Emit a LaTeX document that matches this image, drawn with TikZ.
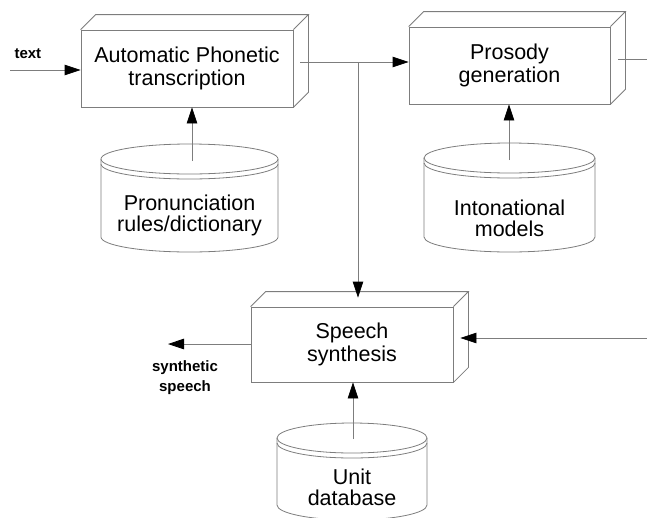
\documentclass[tikz,border=0pt]{standalone}
\usepackage{fontspec}
\setmainfont{Liberation Sans}
\usetikzlibrary{arrows.meta,calc}

\definecolor{linegray}{RGB}{125,125,125}

% database cylinder: centre x, top-ellipse y, bottom-ellipse y, x radius
\newcommand\dbcyl[4]{%
  \draw[edge] (#1,-#2) ellipse [x radius=#4, y radius=15];
  \draw[edge] (#1-#4,-#2) -- (#1-#4,-#2-5)
    arc[start angle=180, end angle=360, x radius=#4, y radius=15] -- (#1+#4,-#2);
  \draw[edge] (#1-#4,-#2-5) -- (#1-#4,-#3)
    arc[start angle=180, end angle=360, x radius=#4, y radius=15] -- (#1+#4,-#2-5);
}

\tikzset{
  edge/.style={draw=linegray, line width=0.8pt},
  arr/.style={edge, -{Triangle[length=16pt,width=10.5pt,color=black,fill=black]}},
  boxfront/.style={draw=linegray, line width=0.8pt, align=center,
    inner sep=0pt, font=\fontsize{21.5}{22.5}\selectfont},
  dbtext/.style={align=center, font=\fontsize{21.5}{21}\selectfont},
  smalllabel/.style={align=center, font=\fontsize{15}{20}\selectfont\bfseries},
}

\begin{document}
\begin{tikzpicture}[x=1pt,y=1pt]
\useasboundingbox (0,0) rectangle (647,-517);
\clip (0,0) rectangle (647,-517);

% processing blocks (front faces)
\node[boxfront, minimum width=212pt, minimum height=77pt] (apt) at (187,-68.5)
  {Automatic Phonetic\\transcription};
\node[boxfront, minimum width=201pt, minimum height=77pt] (pros) at (509.5,-65.5)
  {Prosody\\generation};
\node[boxfront, minimum width=202pt, minimum height=75pt] (syn) at (352,-344.5)
  {Speech\\synthesis};

% top and right faces giving the blocks depth
\foreach \n in {apt,pros,syn}{
  \draw[edge] (\n.north west) -- ++(15,15) -- ($(\n.north east)+(15,15)$) -- (\n.north east);
  \draw[edge] ($(\n.north east)+(15,15)$) -- ($(\n.south east)+(15,15)$) -- (\n.south east);
}

% data stores
\dbcyl{189.5}{159}{237}{88.5}
\dbcyl{509.5}{158}{237}{85.5}
\dbcyl{352}{438}{505}{75}
\node[dbtext] (pron) at (189.5,-215) {Pronunciation\\rules/dictionary};
\node[dbtext] (inton) at (509.5,-218) {Intonational\\models};
\node[dbtext] (unit) at (352,-487) {Unit\\database};

% free ends and junctions
\coordinate (textin) at (10,-70);
\coordinate (aptout) at (300,-62);
\coordinate (j) at (358,-62);
\coordinate (prosout) at (618,-59);
\coordinate (prosend) at (647,-59);
\coordinate (rightin) at (647,-338);
\coordinate (speechout) at (168,-344);
\coordinate (pronTop) at (192,-161);
\coordinate (intonTop) at (509,-160);
\coordinate (unitTop) at (353,-439);

% labels
\node[smalllabel, anchor=south west] (textlbl) at (11,-62) {text};
\node[smalllabel] (speechlbl) at (185,-378) {synthetic\\speech};

% connectors
\draw[arr] (textin) -- (textin -| apt.west);
\draw[edge] (aptout) -- (j);
\draw[arr] (j) -- (j -| pros.west);
\draw[arr] (j) -- ($(j |- syn.north)+(0,9)$);
\draw[edge] (prosout) -- (prosend);
\draw[arr] (rightin) -- ($(rightin -| syn.east)+(7,0)$);
\draw[arr] (speechout -| syn.west) -- (speechout);
\draw[arr] (pronTop) -- (pronTop |- apt.south);
\draw[arr] (intonTop) -- (intonTop |- pros.south);
\draw[arr] (unitTop) -- (unitTop |- syn.south);
\end{tikzpicture}
\end{document}
